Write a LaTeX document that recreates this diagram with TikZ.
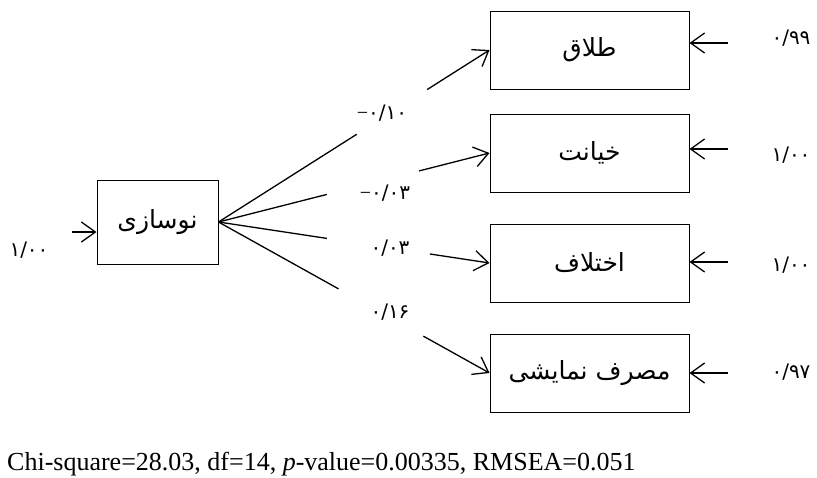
\documentclass[tikz,border=0pt]{standalone}
\usepackage{fontspec}
\setmainfont{Liberation Serif}
\newfontfamily\fa[Script=Arabic]{DejaVu Sans}
\TeXXeTstate=1
\usetikzlibrary{arrows.meta,calc}

\begin{document}
\begin{tikzpicture}[x=1pt,y=-1pt,
    box/.style={draw,line width=1pt,minimum width=199pt,minimum height=78pt,
      inner sep=0pt,font=\fa\fontsize{25}{28}\selectfont},
    coef/.style={font=\fa\fontsize{20}{22}\selectfont,inner sep=1pt},
    lnk/.style={line width=1.3pt},
    >={Straight Barb[length=14pt,width=20pt]}]
  \useasboundingbox (0,0) rectangle (817,477);

  % latent variable and the four outcomes
  \node[box,minimum width=121pt,minimum height=84pt] (nos) at (157.5,222) {\beginR نوسازی\endR};
  \node[box] (t1) at (589.5,50)  {\beginR طلاق\endR};
  \node[box] (t2) at (589.5,153) {\beginR خیانت\endR};
  \node[box] (t3) at (589.5,263) {\beginR اختلاف\endR};
  \node[box] (t4) at (589.5,373) {\beginR مصرف نمایشی\endR};

  % paths, broken where the coefficient sits
  \foreach \t/\a/\b in {t1/.51/.77, t2/.40/.74, t3/.40/.78, t4/.443/.756}
  {
    \draw[lnk] (nos.east) -- ($(nos.east)!\a!(\t.west)$);
    \draw[lnk,->] ($(nos.east)!\b!(\t.west)$) -- (\t.west);
  }
  \node[coef] (c1) at (382,113) {{\rmfamily −}۰/۱۰};
  \node[coef] (c2) at (385,193) {{\rmfamily −}۰/۰۳};
  \node[coef] (c3) at (390,248) {۰/۰۳};
  \node[coef] (c4) at (390,312) {۰/۱۶};

  % error terms
  \coordinate (e0) at (72,232);
  \draw[lnk,->] (e0) -- (e0 -| nos.west);
  \node[coef] (r0) at (29,250) {۱/۰۰};

  \coordinate (e1) at (728,43);
  \draw[lnk,->] (e1) -- (e1 -| t1.east);
  \node[coef] (r1) at (791,38) {۰/۹۹};
  \coordinate (e2) at (728,149);
  \draw[lnk,->] (e2) -- (e2 -| t2.east);
  \node[coef] (r2) at (791,155) {۱/۰۰};
  \coordinate (e3) at (728,262);
  \draw[lnk,->] (e3) -- (e3 -| t3.east);
  \node[coef] (r3) at (791,265) {۱/۰۰};
  \coordinate (e4) at (728,373);
  \draw[lnk,->] (e4) -- (e4 -| t4.east);
  \node[coef] (r4) at (791,372) {۰/۹۷};

  \node[anchor=base west,inner sep=0pt,font=\fontsize{26}{30}\selectfont] (fit) at (7,470)
    {Chi-square=28.03, df=14, \textit{p}-value=0.00335, RMSEA=0.051};
\end{tikzpicture}
\end{document}
